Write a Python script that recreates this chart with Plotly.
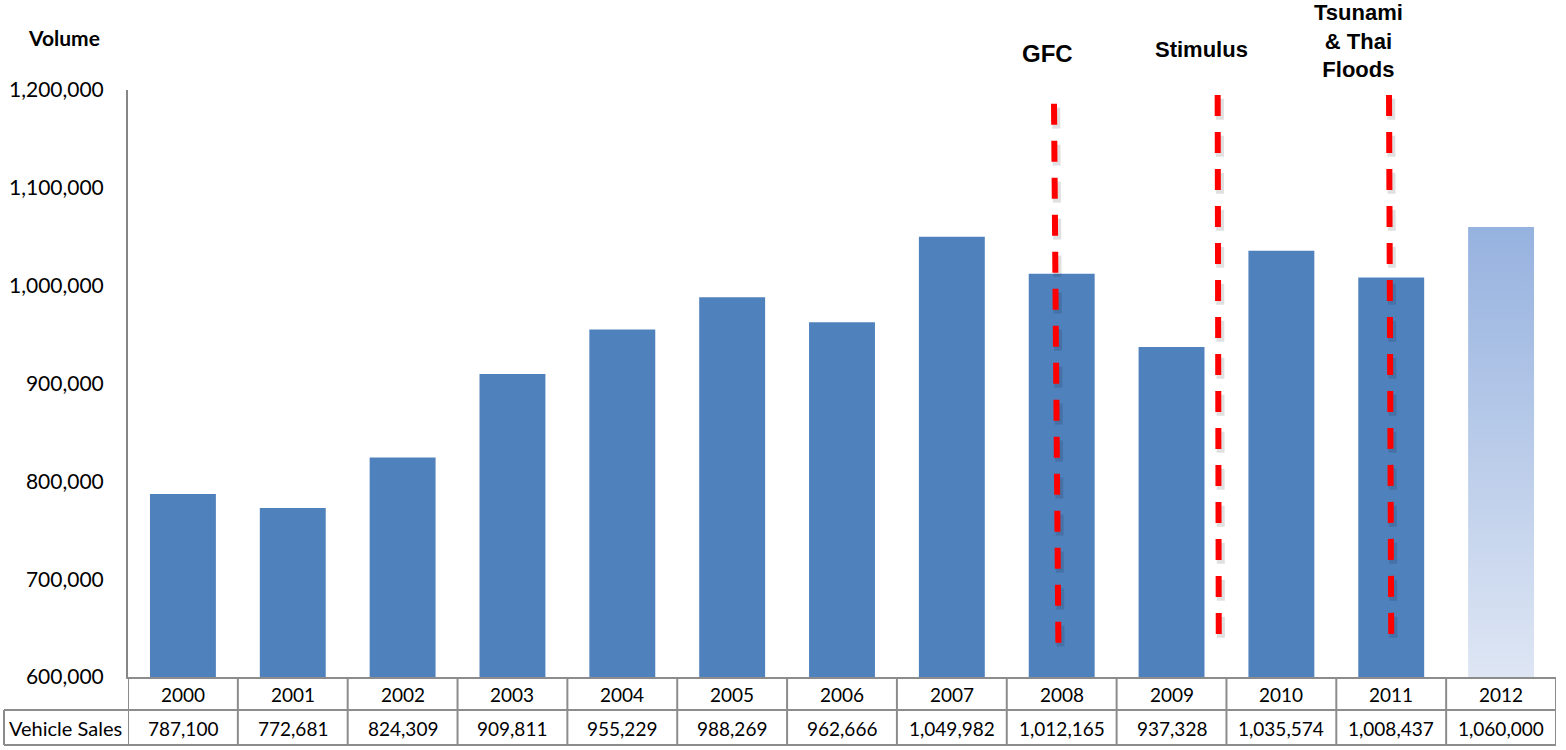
import plotly.graph_objects as go

years = ["2000", "2001", "2002", "2003", "2004", "2005", "2006",
         "2007", "2008", "2009", "2010", "2011", "2012"]
sales = [787100, 772681, 824309, 909811, 955229, 988269, 962666,
         1049982, 1012165, 937328, 1035574, 1008437, 1060000]
forecast_flags = [False] * 12 + [True]
events = ["GFC", "Stimulus", "Tsunami<br>&amp; Thai<br>Floods"]
event_line_x = [(7.93, 7.97), (9.42, 9.43), (10.98, 11.0)]
event_line_y = [(1186000, 632000), (1195000, 640000), (1195000, 640000)]
event_label_x = [7.87, 9.27, 10.7]
event_label_ypix = [54, 50, 41]
y_ticks = [600000, 700000, 800000, 900000, 1000000, 1100000, 1200000]

W, H = 1566, 750
ML, MR, MT, MB = 128, 10, 90, 73
PH = H - MT - MB
PW = W - ML - MR
BAR_W = 0.6
YMIN, YMAX = 600000, 1200000

def py(pix):
    return (H - MB - pix) / PH

def px(pix):
    return (pix - ML) / PW

idx = list(range(len(years)))
fig = go.Figure()

act_x = [i for i, f in zip(idx, forecast_flags) if not f]
act_y = [v for v, f in zip(sales, forecast_flags) if not f]
fig.add_trace(go.Bar(x=act_x, y=act_y, width=BAR_W, marker_color="#4F81BD",
                     marker_line_width=0, showlegend=False, hoverinfo="x+y"))

for i, v, f in zip(idx, sales, forecast_flags):
    if f:
        fig.add_trace(go.Scatter(
            x=[i - BAR_W / 2, i + BAR_W / 2, i + BAR_W / 2, i - BAR_W / 2, i - BAR_W / 2],
            y=[YMIN, YMIN, v, v, YMIN], mode="lines", line_width=0,
            fill="toself",
            fillgradient=dict(type="vertical",
                              colorscale=[[0, "#DEE6F4"], [1, "#96B2DF"]]),
            showlegend=False, hoverinfo="skip"))

shapes = []
# event dashed lines (with faint shadow)
for (x0, x1), (y0, y1) in zip(event_line_x, event_line_y):
    shapes.append(dict(type="line", xref="x", yref="y", x0=x0 + 0.02, x1=x1 + 0.02,
                       y0=y0 - 4000, y1=y1 - 4000,
                       line=dict(color="rgba(0,0,0,0.12)", width=8, dash="21px,16px")))
    shapes.append(dict(type="line", xref="x", yref="y", x0=x0, x1=x1, y0=y0, y1=y1,
                       line=dict(color="#FF0000", width=6, dash="21px,16px")))

grid = "#8C8C8C"
row1 = py(710)
row2 = py(745)
left = px(4)
right = px(W - MR)
# horizontal table lines
shapes.append(dict(type="line", xref="paper", yref="paper", x0=left, x1=right,
                   y0=row1, y1=row1, line=dict(color=grid, width=2)))
shapes.append(dict(type="line", xref="paper", yref="paper", x0=left, x1=right,
                   y0=row2, y1=row2, line=dict(color=grid, width=2)))
# left box edge
shapes.append(dict(type="line", xref="paper", yref="paper", x0=left, x1=left,
                   y0=row1, y1=row2, line=dict(color=grid, width=2)))
# vertical category separators
for i in idx + [len(years)]:
    shapes.append(dict(type="line", xref="x", yref="paper", x0=i - 0.5, x1=i - 0.5,
                       y0=0, y1=row2, line=dict(color=grid, width=2)))

annotations = []
tfont = dict(family="Lato, Carlito, Calibri, sans-serif", size=19, color="#000000")
for i, yr, v in zip(idx, years, sales):
    annotations.append(dict(x=i, y=py(694), xref="x", yref="paper", text=yr,
                            showarrow=False, font=tfont, xanchor="center", yanchor="middle"))
    annotations.append(dict(x=i, y=py(728), xref="x", yref="paper", text=f"{v:,}",
                            showarrow=False, font=tfont, xanchor="center", yanchor="middle"))
annotations.append(dict(x=px(65), y=py(728), xref="paper", yref="paper", text="Vehicle Sales",
                        showarrow=False, font=dict(family="Lato, sans-serif", size=20, color="#000"),
                        xanchor="center", yanchor="middle"))
annotations.append(dict(x=px(64), y=py(37), xref="paper", yref="paper", text="<b>Volume</b>",
                        showarrow=False, font=dict(family="Lato, sans-serif", size=21, color="#000"),
                        xanchor="center", yanchor="middle"))
ev_sizes = [24, 22, 22]
for t, lx, ly, s in zip(events, event_label_x, event_label_ypix, ev_sizes):
    annotations.append(dict(x=lx, y=py(ly), xref="x", yref="paper", text=f"<b>{t}</b>",
                            showarrow=False, xanchor="center", yanchor="middle",
                            font=dict(family="Liberation Sans, Arial, sans-serif", size=s,
                                      color="#000")))

fig.update_layout(
    width=W, height=H,
    margin=dict(l=ML, r=MR, t=MT, b=MB, pad=0),
    plot_bgcolor="white", paper_bgcolor="white",
    shapes=shapes, annotations=annotations,
    bargap=0.4,
    xaxis=dict(range=[-0.5, len(years) - 0.5], showticklabels=False, showgrid=False,
               zeroline=False, showline=True, linecolor=grid, linewidth=2, ticks=""),
    yaxis=dict(range=[YMIN, YMAX], tickvals=y_ticks, tickformat=",", showgrid=False,
               zeroline=False, showline=True, linecolor="#868686", linewidth=2, ticks="",
               ticklabelstandoff=18,
               tickfont=dict(family="Lato, Carlito, Calibri, sans-serif", size=21, color="#000")),
)

fig.write_html("out.html")
